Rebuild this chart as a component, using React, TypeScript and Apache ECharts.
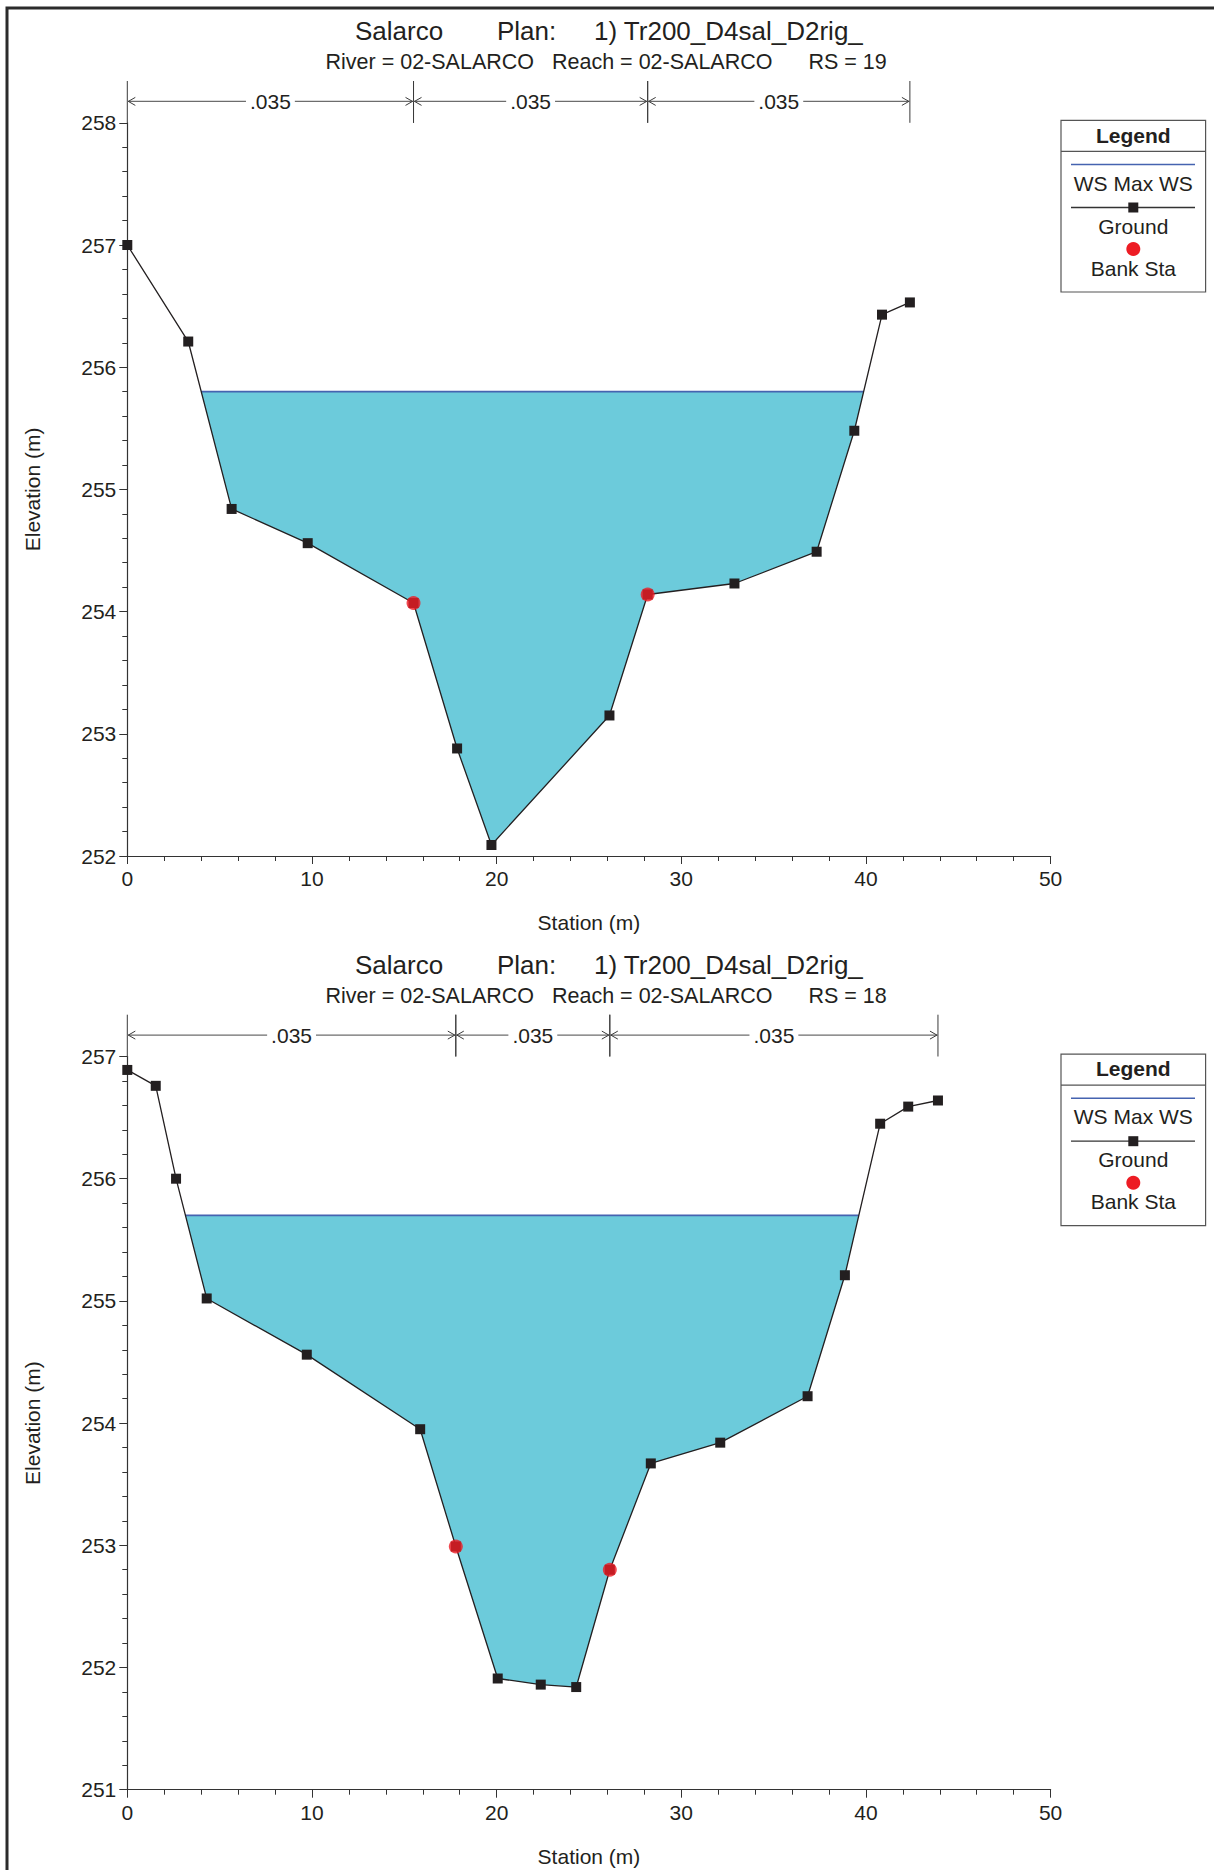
import React, { useEffect, useRef } from "react";
import * as echarts from "echarts";

// ---------- DATA ----------
// RS = 19
const stations19 = [0, 3.3, 5.65, 9.77, 15.5, 17.86, 19.72, 26.11, 28.18, 32.88, 37.33, 39.37, 40.87, 42.38];
const elev19 = [257.0, 256.21, 254.84, 254.56, 254.07, 252.88, 252.09, 253.15, 254.14, 254.23, 254.49, 255.48, 256.43, 256.53];
const ws19 = 255.8;
const banks19 = [15.5, 28.18];
const manningSta19 = [0, 15.5, 28.18, 42.38];
const manningN19 = [0.035, 0.035, 0.035];
const yRange19 = [252, 258];

// RS = 18
const stations18 = [0, 1.54, 2.64, 4.3, 9.72, 15.86, 17.79, 20.06, 22.39, 24.31, 26.13, 28.35, 32.11, 36.84, 38.86, 40.77, 42.29, 43.9];
const elev18 = [256.89, 256.76, 256.0, 255.02, 254.56, 253.95, 252.99, 251.91, 251.86, 251.84, 252.8, 253.67, 253.84, 254.22, 255.21, 256.45, 256.59, 256.64];
const ws18 = 255.7;
const banks18 = [17.79, 26.13];
const manningSta18 = [0, 17.79, 26.13, 43.9];
const manningN18 = [0.035, 0.035, 0.035];
const yRange18 = [251, 257];

const xRange = [0, 50];
const xInterval = 10;
const yInterval = 1;

const riverName = "Salarco";
const planLabel = "Plan:";
const planName = "1) Tr200_D4sal_D2rig_";
const riverText = "River = 02-SALARCO";
const reachText = "Reach = 02-SALARCO";
const rsLabels = ["RS = 19", "RS = 18"];
const legendItems = ["WS Max WS", "Ground", "Bank Sta"];

// ---------- STYLE ----------
const FONT = "'Liberation Sans', Arial, Helvetica, sans-serif";
const TXT = "#231f20";
const AXIS = "#333333";
const WATER = "#6ccbdb";
const WSLINE = "#4563b0";
const RED = "#ed1c24";

const GRID_LEFT = 127.3;
const GRID_W = 923.3;
const GRID_H = 733.2;
const GRID_TOPS = [122.8, 1056.5];
const DY = [0, 933.7];

function waterPoly(st: number[], el: number[], ws: number) {
  const pts: number[][] = [];
  for (let i = 0; i < st.length - 1; i++) {
    const a = el[i] < ws;
    const b = el[i + 1] < ws;
    if (a) pts.push([st[i], el[i]]);
    if (a !== b) {
      const t = (ws - el[i]) / (el[i + 1] - el[i]);
      pts.push([st[i] + t * (st[i + 1] - st[i]), ws]);
    }
  }
  const last = st.length - 1;
  if (el[last] < ws) pts.push([st[last], el[last]]);
  return pts;
}

function fmtN(n: number) {
  return n.toFixed(3).replace(/^0/, "");
}

function buildSeries(k: number, st: number[], el: number[], ws: number, banks: number[], mSta: number[], mN: number[], yMax: number) {
  const poly = waterPoly(st, el, ws);
  const groundData = st.map((s, i) => [s, el[i]]);
  const bankData = banks.map((b) => [b, el[st.indexOf(b)]]);
  const manningData = mN.map((n, i) => [mSta[i], mSta[i + 1], n, yMax]);
  return [
    {
      type: "custom",
      name: "water" + k,
      xAxisIndex: k,
      yAxisIndex: k,
      z: 1,
      silent: true,
      data: poly,
      renderItem: (params: any, api: any) => {
        if (params.dataIndex !== 0) return null;
        const pts = poly.map((p) => api.coord(p));
        return { type: "polygon", shape: { points: pts }, style: { fill: WATER, stroke: "none" } };
      },
    },
    {
      type: "line",
      name: "WS Max WS",
      xAxisIndex: k,
      yAxisIndex: k,
      z: 2,
      symbol: "none",
      clip: false,
      data: [poly[0], poly[poly.length - 1]],
      lineStyle: { color: WSLINE, width: 1.6 },
    },
    {
      type: "line",
      name: "Ground",
      xAxisIndex: k,
      yAxisIndex: k,
      z: 3,
      clip: false,
      symbol: "rect",
      symbolSize: 10,
      data: groundData,
      lineStyle: { color: TXT, width: 1.3 },
      itemStyle: { color: TXT },
    },
    {
      type: "scatter",
      name: "Bank Sta",
      xAxisIndex: k,
      yAxisIndex: k,
      z: 4,
      clip: false,
      symbol: "circle",
      symbolSize: 14,
      data: bankData,
      itemStyle: { color: RED },
    },
    {
      type: "custom",
      name: "manning" + k,
      xAxisIndex: k,
      yAxisIndex: k,
      z: 5,
      clip: false,
      silent: true,
      encode: { x: [0, 1], y: 3 },
      data: manningData,
      renderItem: (params: any, api: any) => {
        const s = api.value(0);
        const e = api.value(1);
        const n = api.value(2);
        const ym = api.value(3);
        const p0 = api.coord([s, ym]);
        const p1 = api.coord([e, ym]);
        const top = p0[1];
        const yA = top - 21.4;
        const yT = top - 41.8;
        const lc = "#3a3a3a";
        return {
          type: "group",
          children: [
            { type: "line", shape: { x1: p0[0], y1: yT, x2: p0[0], y2: top }, style: { stroke: lc, lineWidth: 1 } },
            { type: "line", shape: { x1: p1[0], y1: yT, x2: p1[0], y2: top }, style: { stroke: lc, lineWidth: 1 } },
            { type: "line", shape: { x1: p0[0], y1: yA, x2: p1[0], y2: yA }, style: { stroke: "#6d6d6d", lineWidth: 1.2 } },
            { type: "polyline", shape: { points: [[p0[0] + 8, yA - 4], [p0[0] + 1, yA], [p0[0] + 8, yA + 4]] }, style: { stroke: lc, fill: null, lineWidth: 1 } },
            { type: "polyline", shape: { points: [[p1[0] - 8, yA - 4], [p1[0] - 1, yA], [p1[0] - 8, yA + 4]] }, style: { stroke: lc, fill: null, lineWidth: 1 } },
            {
              type: "text",
              x: (p0[0] + p1[0]) / 2,
              y: yA,
              style: {
                text: fmtN(n),
                fontSize: 21,
                fontFamily: FONT,
                fill: TXT,
                align: "center",
                verticalAlign: "middle",
                textAlign: "center",
                textVerticalAlign: "middle",
                backgroundColor: "#ffffff",
                padding: [0, 4],
              },
            },
          ],
        };
      },
    },
  ];
}

function xAxisCfg(k: number) {
  return {
    type: "value",
    gridIndex: k,
    min: xRange[0],
    max: xRange[1],
    interval: xInterval,
    name: "Station (m)",
    nameLocation: "middle",
    nameGap: 56,
    nameTextStyle: { fontSize: 21, color: TXT, fontFamily: FONT },
    axisLine: { show: true, onZero: false, lineStyle: { color: AXIS, width: 1.2 } },
    axisTick: { show: true, length: 8, lineStyle: { color: AXIS } },
    minorTick: { show: true, splitNumber: 5, length: 5, lineStyle: { color: AXIS } },
    axisLabel: { fontSize: 21, color: TXT, margin: 12, fontFamily: FONT },
    splitLine: { show: false },
    minorSplitLine: { show: false },
  };
}

function yAxisCfg(k: number, range: number[]) {
  return {
    type: "value",
    gridIndex: k,
    min: range[0],
    max: range[1],
    interval: yInterval,
    name: "Elevation (m)",
    nameLocation: "middle",
    nameGap: 84,
    nameTextStyle: { fontSize: 21, color: TXT, fontFamily: FONT },
    axisLine: { show: true, onZero: false, lineStyle: { color: AXIS, width: 1.2 } },
    axisTick: { show: true, length: 8, lineStyle: { color: AXIS } },
    minorTick: { show: true, splitNumber: 5, length: 5, lineStyle: { color: AXIS } },
    axisLabel: { fontSize: 21, color: TXT, margin: 11, fontFamily: FONT },
    splitLine: { show: false },
    minorSplitLine: { show: false },
  };
}

function txt(text: string, x: number, y: number, size: number, align = "left", bold = false) {
  return {
    type: "text",
    x,
    y,
    z: 10,
    style: {
      text,
      fontSize: size,
      fontFamily: FONT,
      fontWeight: bold ? "bold" : "normal",
      fill: TXT,
      align,
      verticalAlign: "middle",
      textAlign: align,
      textVerticalAlign: "middle",
    },
  };
}

function headerAndLegend(k: number) {
  const dy = DY[k];
  const lx = 1061;
  const lw = 144.6;
  const cx = lx + lw / 2;
  return [
    txt(riverName, 355, 31 + dy, 26),
    txt(planLabel, 497, 31 + dy, 26),
    txt(planName, 594, 31 + dy, 26),
    txt(riverText, 325.5, 62 + dy, 21.5),
    txt(reachText, 552, 62 + dy, 21.5),
    txt(rsLabels[k], 808.5, 62 + dy, 21.5),
    {
      type: "rect",
      z: 9,
      shape: { x: lx, y: 120.4 + dy, width: lw, height: 171.6 },
      style: { fill: "#ffffff", stroke: "#555555", lineWidth: 1.2 },
    },
    txt("Legend", cx, 135 + dy, 21, "center", true),
    { type: "line", z: 10, shape: { x1: lx, y1: 151.4 + dy, x2: lx + lw, y2: 151.4 + dy }, style: { stroke: "#555555", lineWidth: 1.2 } },
    { type: "line", z: 10, shape: { x1: 1071, y1: 164.6 + dy, x2: 1195, y2: 164.6 + dy }, style: { stroke: WSLINE, lineWidth: 1.5 } },
    txt(legendItems[0], cx, 183 + dy, 21, "center"),
    { type: "line", z: 10, shape: { x1: 1071, y1: 207.5 + dy, x2: 1195, y2: 207.5 + dy }, style: { stroke: "#333333", lineWidth: 1.3 } },
    { type: "rect", z: 11, shape: { x: cx - 5, y: 202.5 + dy, width: 10, height: 10 }, style: { fill: TXT } },
    txt(legendItems[1], cx, 226 + dy, 21, "center"),
    { type: "circle", z: 10, shape: { cx, cy: 249 + dy, r: 7 }, style: { fill: RED } },
    txt(legendItems[2], cx, 268 + dy, 21, "center"),
  ];
}

export default function App() {
  const ref = useRef<HTMLDivElement>(null);
  useEffect(() => {
    if (!ref.current) return;
    const chart = echarts.init(ref.current, undefined, { renderer: "svg" });
    const option = {
      animation: false,
      backgroundColor: "#ffffff",
      grid: GRID_TOPS.map((t) => ({ left: GRID_LEFT, top: t, width: GRID_W, height: GRID_H })),
      xAxis: [xAxisCfg(0), xAxisCfg(1)],
      yAxis: [yAxisCfg(0, yRange19), yAxisCfg(1, yRange18)],
      series: [
        ...buildSeries(0, stations19, elev19, ws19, banks19, manningSta19, manningN19, yRange19[1]),
        ...buildSeries(1, stations18, elev18, ws18, banks18, manningSta18, manningN18, yRange18[1]),
      ],
      graphic: [
        {
          type: "rect",
          z: 0,
          shape: { x: 7, y: 8, width: 1300, height: 1950 },
          style: { fill: "none", stroke: "#2b2b2b", lineWidth: 3 },
        },
        ...headerAndLegend(0),
        ...headerAndLegend(1),
      ],
    };
    chart.setOption(option as any);
    return () => chart.dispose();
  }, []);
  return (
    <div
      ref={ref}
      style={{ position: "absolute", left: 0, top: 0, width: 1214, height: 1870, background: "#fff" }}
    />
  );
}
